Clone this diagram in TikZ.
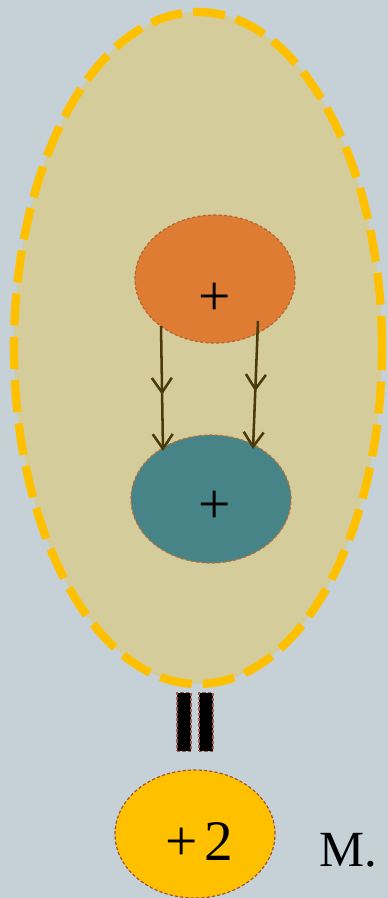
\documentclass[tikz,border=0pt]{standalone}
\usepackage{fontspec}
\setmainfont{Liberation Serif}
\usetikzlibrary{shapes.geometric,arrows.meta,decorations.markings}
\definecolor{bgc}{HTML}{C5D1D7}
\definecolor{cellfill}{HTML}{D4CC9A}
\definecolor{gold}{HTML}{FFC000}
\definecolor{orng}{HTML}{DE7C34}
\definecolor{orngb}{HTML}{B5652A}
\definecolor{teal2}{HTML}{478488}
\definecolor{tealb}{HTML}{B9703C}
\definecolor{goldb}{HTML}{9C5239}
\definecolor{barb}{HTML}{A05A50}
\definecolor{arr}{HTML}{4A3A0A}
\tikzset{
  blob/.style={ellipse, minimum width=120pt, minimum height=96pt, inner sep=0pt,
    line width=0.9pt, dash pattern=on 2.4pt off 1.6pt},
  bar/.style={rectangle, minimum width=10.5pt, minimum height=44pt, inner sep=0pt,
    fill=black, draw=barb, line width=0.9pt, dash pattern=on 2.4pt off 1.6pt},
  flow/.style={draw=arr, line width=1.9pt,
    -{Straight Barb[length=11pt,width=15pt,line width=1.9pt]},
    postaction={decorate},
    decoration={markings, mark=at position 0.55 with {\arrow{Straight Barb[length=11pt,width=15pt,line width=1.9pt]}}}},
  sym/.style={font=\fontsize{43}{43}\selectfont, inner sep=0pt}
}
\begin{document}
\begin{tikzpicture}[x=0.75pt,y=-0.75pt]
\fill[bgc] (0,0) rectangle (388,898);
\useasboundingbox (0,0) rectangle (388,898);
\node[ellipse, minimum width=276pt, minimum height=504pt, inner sep=0pt,
  fill=cellfill, draw=gold, line width=6.2pt, dash pattern=on 24pt off 8.5pt] (cell) at (198,348) {};
\node[blob, fill=orng, draw=orngb] (top) at (215,279) {};
\node[blob, fill=teal2, draw=tealb] (mid) at (211,499) {};
\node[sym] (p1) at (215,299) {+};
\node[sym] (p2) at (215,507) {+};
\coordinate (a1) at (161,326);
\coordinate (b1) at (163,451);
\coordinate (a2) at (258,321);
\coordinate (b2) at (253,449);
\draw[flow] (a1) -- (b1);
\draw[flow] (a2) -- (b2);
\node[bar] (bar1) at (184,722) {};
\node[bar] (bar2) at (206,722) {};
\node[ellipse, minimum width=120pt, minimum height=96pt, inner sep=0pt,
  fill=gold, draw=goldb, line width=0.9pt, dash pattern=on 2.4pt off 1.6pt] (bot) at (195,834) {};
\node[sym] (q) at (199,842) {+\hspace{0.12em}2};
\node[font=\fontsize{38}{38}\selectfont, inner sep=0pt] (m) at (348,850) {М.};
\end{tikzpicture}
\end{document}
